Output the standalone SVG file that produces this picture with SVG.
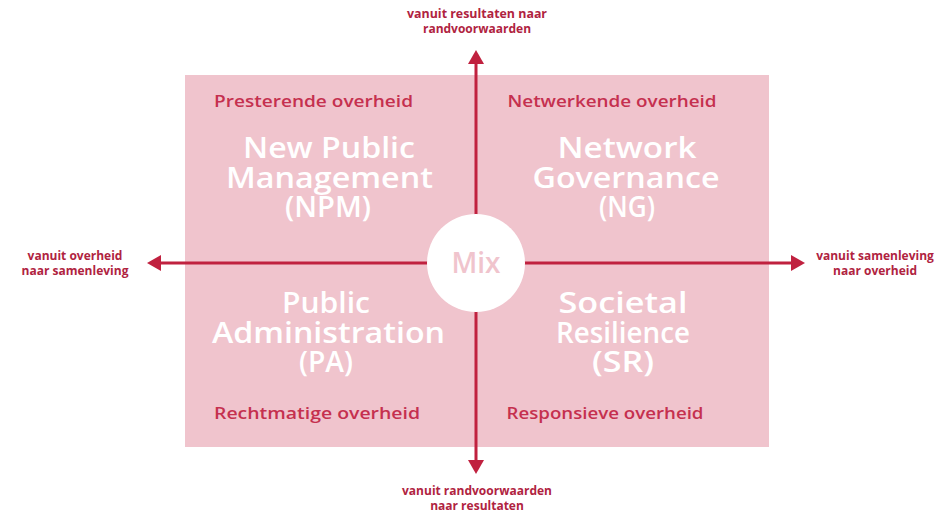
<svg xmlns="http://www.w3.org/2000/svg" width="951" height="514" viewBox="0 0 951 514">
<defs>
<style>
.bg{fill:#ffffff}
.quad{fill:#f0c4cd}
.axis{stroke:#c0213f;stroke-width:3;fill:none}
.head{fill:#c0213f}
.big{font-family:"Open Sans","Liberation Sans",sans-serif;font-weight:600;font-size:29px;fill:#ffffff;text-anchor:middle}
.sub{font-family:"Open Sans","Liberation Sans",sans-serif;font-weight:600;font-size:16px;fill:#c5304f;text-anchor:middle}
.ax{font-family:"Open Sans","Liberation Sans",sans-serif;font-weight:700;font-size:12px;fill:#b0233f;text-anchor:middle}
.mix{font-family:"Open Sans","Liberation Sans",sans-serif;font-weight:600;font-size:28px;fill:#f0c4cd;text-anchor:middle}
</style>
</defs>
<rect class="bg" x="0" y="0" width="951" height="514"/>
<rect class="quad" x="185" y="75" width="584" height="372"/>

<g id="connectors">
<line class="axis" x1="476" y1="62" x2="476" y2="462"/>
<polygon class="head" points="476,50 468,64 484,64"/>
<polygon class="head" points="476,474 468,460 484,460"/>
<line class="axis" x1="160" y1="263" x2="792" y2="263"/>
<polygon class="head" points="147,263 161,255 161,271"/>
<polygon class="head" points="805,263 791,255 791,271"/>
</g>

<g id="mix">
<circle cx="476" cy="263" r="49" fill="#ffffff"/>
<text class="mix" x="476" y="273">Mix</text>
</g>

<g id="npm">
<text class="sub" x="313.5" y="107" textLength="199" lengthAdjust="spacingAndGlyphs">Presterende overheid</text>
<text class="big"><tspan x="329" y="158" textLength="172" lengthAdjust="spacingAndGlyphs">New Public</tspan><tspan x="329.5" y="188" textLength="207" lengthAdjust="spacingAndGlyphs">Management</tspan><tspan x="328" y="217" textLength="86" lengthAdjust="spacingAndGlyphs">(NPM)</tspan></text>
</g>

<g id="ng">
<text class="sub" x="612" y="107" textLength="209" lengthAdjust="spacingAndGlyphs">Netwerkende overheid</text>
<text class="big"><tspan x="627" y="158" textLength="139" lengthAdjust="spacingAndGlyphs">Network</tspan><tspan x="626" y="188" textLength="187" lengthAdjust="spacingAndGlyphs">Governance</tspan><tspan x="627" y="217" textLength="56" lengthAdjust="spacingAndGlyphs">(NG)</tspan></text>
</g>

<g id="pa">
<text class="big"><tspan x="326" y="313" textLength="88" lengthAdjust="spacingAndGlyphs">Public</tspan><tspan x="328.5" y="343" textLength="233" lengthAdjust="spacingAndGlyphs">Administration</tspan><tspan x="326" y="372" textLength="54" lengthAdjust="spacingAndGlyphs">(PA)</tspan></text>
<text class="sub" x="317" y="419" textLength="206" lengthAdjust="spacingAndGlyphs">Rechtmatige overheid</text>
</g>

<g id="sr">
<text class="big"><tspan x="623" y="313" textLength="129" lengthAdjust="spacingAndGlyphs">Societal</tspan><tspan x="623" y="343" textLength="134" lengthAdjust="spacingAndGlyphs">Resilience</tspan><tspan x="623" y="372" textLength="62" lengthAdjust="spacingAndGlyphs">(SR)</tspan></text>
<text class="sub" x="605" y="419" textLength="197" lengthAdjust="spacingAndGlyphs">Responsieve overheid</text>
</g>

<g id="label-top">
<text class="ax" x="477" y="18" textLength="140" lengthAdjust="spacingAndGlyphs">vanuit resultaten naar</text>
<text class="ax" x="477" y="33">randvoorwaarden</text>
</g>
<g id="label-left">
<text class="ax" x="75" y="260">vanuit overheid</text>
<text class="ax" x="75" y="275">naar samenleving</text>
</g>
<g id="label-right">
<text class="ax" x="875" y="260">vanuit samenleving</text>
<text class="ax" x="875" y="275">naar overheid</text>
</g>
<g id="label-bottom">
<text class="ax" x="477" y="495">vanuit randvoorwaarden</text>
<text class="ax" x="477" y="510">naar resultaten</text>
</g>
</svg>
